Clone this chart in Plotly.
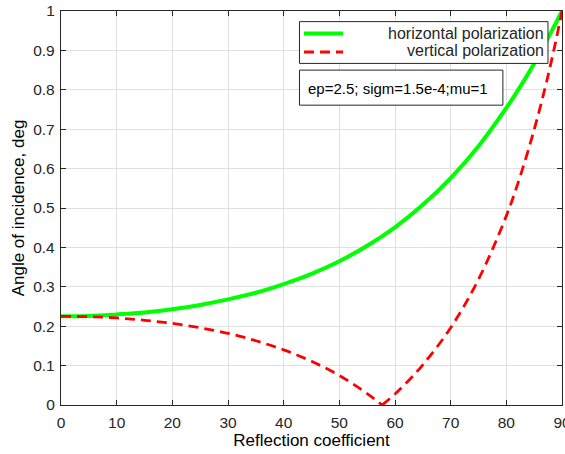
import plotly.graph_objects as go

# Fresnel reflection magnitudes for ep=2.5, read at selected angles (deg)
angle_h = [0, 5, 10, 15, 20, 25, 30, 35, 40, 45, 50, 55, 60, 65, 70, 75, 80, 82.5, 85, 87, 88, 89, 90]
refl_h = [0.225, 0.226, 0.230, 0.235, 0.243, 0.254, 0.268, 0.285, 0.307, 0.333, 0.365, 0.404,
          0.451, 0.508, 0.576, 0.657, 0.754, 0.808, 0.867, 0.918, 0.945, 0.972, 1.0]

# vertical polarization, split at the Brewster angle (57.7 deg)
angle_v1 = [0, 5, 10, 15, 20, 25, 30, 35, 40, 45, 50, 52.5, 55, 57.7]
refl_v1 = [0.225, 0.224, 0.221, 0.215, 0.207, 0.196, 0.182, 0.163, 0.140, 0.111, 0.075, 0.053, 0.029, 0.0]
angle_v2 = [57.7, 60, 62.5, 65, 70, 75, 80, 82.5, 85, 87, 88, 89, 90]
refl_v2 = [0.0, 0.028, 0.063, 0.102, 0.196, 0.319, 0.480, 0.581, 0.699, 0.807, 0.867, 0.931, 1.0]

x_ticks = [0, 10, 20, 30, 40, 50, 60, 70, 80, 90]
y_ticks = [0, 0.1, 0.2, 0.3, 0.4, 0.5, 0.6, 0.7, 0.8, 0.9, 1]

GREEN = "#00FF00"
RED = "#FF0000"
AX = "#262626"
FONT = "Liberation Sans, Arial, sans-serif"

fig = go.Figure()
fig.add_trace(go.Scatter(x=angle_h, y=refl_h, mode="lines", line=dict(color=GREEN, width=4, shape="spline"),
                         name="horizontal polarization", showlegend=False))
for xs, ys in ((angle_v1, refl_v1), (angle_v2, refl_v2)):
    fig.add_trace(go.Scatter(x=xs, y=ys, mode="lines",
                             line=dict(color=RED, width=2.8, dash="10px,6px", shape="spline"),
                             name="vertical polarization", showlegend=False))

axis_common = dict(
    showline=True, linecolor=AX, linewidth=1.3, mirror="ticks",
    ticks="inside", ticklen=5, tickcolor=AX, tickwidth=1.3,
    showgrid=True, gridcolor="#E0E0E0", gridwidth=1, zeroline=False,
    tickfont=dict(family=FONT, size=15.5, color=AX),
    ticklabeloverflow="allow", automargin=False,
)

fig.update_layout(
    width=565, height=454,
    margin=dict(l=61, r=3, t=11, b=49, pad=0, autoexpand=False),
    paper_bgcolor="white", plot_bgcolor="white",
    xaxis=dict(range=[0, 90], tickvals=x_ticks, ticklabelstandoff=3, **axis_common,
               title=dict(text="Reflection coefficient", font=dict(family=FONT, size=17, color="black"), standoff=2)),
    yaxis=dict(range=[0, 1], tickvals=y_ticks, ticklabelstandoff=2, **axis_common,
               title=dict(text="Angle of incidence, deg", font=dict(family=FONT, size=17, color="black"), standoff=4)),
    showlegend=False,
)

# legend box with line samples and right-aligned labels
shapes = [
    dict(type="rect", xref="paper", yref="paper", x0=0.476, x1=0.972, y0=0.867, y1=0.973,
         fillcolor="white", line=dict(color=AX, width=1), layer="above"),
    dict(type="line", xref="paper", yref="paper", x0=0.485, x1=0.563, y0=0.943, y1=0.943,
         line=dict(color=GREEN, width=4), layer="above"),
    dict(type="line", xref="paper", yref="paper", x0=0.485, x1=0.563, y0=0.896, y1=0.896,
         line=dict(color=RED, width=2.8, dash="10px,6px"), layer="above"),
    dict(type="rect", xref="paper", yref="paper", x0=0.476, x1=0.882, y0=0.761, y1=0.850,
         fillcolor="white", line=dict(color=AX, width=1), layer="above"),
]
fig.update_layout(shapes=shapes)

annotations = [
    dict(text="horizontal polarization", x=0.968, y=0.943),
    dict(text="vertical polarization", x=0.968, y=0.899),
]
for a in annotations:
    fig.add_annotation(xref="paper", yref="paper", x=a["x"], y=a["y"], text=a["text"], showarrow=False,
                       xanchor="right", yanchor="middle", font=dict(family=FONT, size=16, color=AX))
fig.add_annotation(xref="paper", yref="paper", x=0.490, y=0.803, text="ep=2.5; sigm=1.5e-4;mu=1",
                   showarrow=False, xanchor="left", yanchor="middle", font=dict(family=FONT, size=15, color="black"))

fig.write_html("out.html")
